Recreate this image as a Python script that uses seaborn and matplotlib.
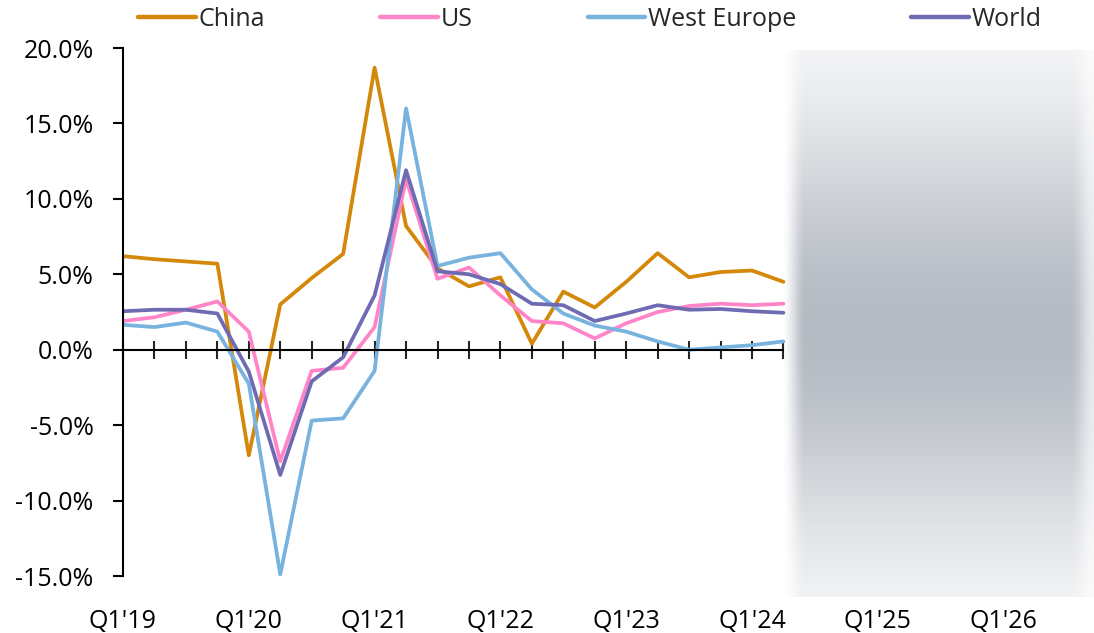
import numpy as np
import pandas as pd
import matplotlib
matplotlib.use("Agg")
import matplotlib.pyplot as plt
import seaborn as sns

quarters = ["Q1'19", "Q2'19", "Q3'19", "Q4'19", "Q1'20", "Q2'20", "Q3'20", "Q4'20",
            "Q1'21", "Q2'21", "Q3'21", "Q4'21", "Q1'22", "Q2'22", "Q3'22", "Q4'22",
            "Q1'23", "Q2'23", "Q3'23", "Q4'23", "Q1'24", "Q2'24"]
china = [6.2, 6.0, 5.85, 5.7, -7.0, 3.0, 4.75, 6.35, 18.7, 8.2, 5.4, 4.2,
         4.8, 0.4, 3.85, 2.8, 4.5, 6.4, 4.8, 5.15, 5.25, 4.5]
us = [1.9, 2.15, 2.65, 3.2, 1.2, -7.4, -1.4, -1.2, 1.5, 11.3, 4.7, 5.45,
      3.6, 1.9, 1.75, 0.75, 1.75, 2.5, 2.9, 3.05, 2.95, 3.05]
west_europe = [1.65, 1.5, 1.8, 1.2, -2.25, -14.9, -4.7, -4.55, -1.4, 16.0, 5.55, 6.1,
               6.4, 4.0, 2.4, 1.6, 1.2, 0.55, 0.0, 0.15, 0.3, 0.55]
world = [2.55, 2.65, 2.65, 2.4, -1.45, -8.3, -2.1, -0.5, 3.6, 11.9, 5.2, 5.0,
         4.35, 3.05, 2.95, 1.9, 2.4, 2.95, 2.65, 2.7, 2.55, 2.45]

series_names = ["China", "US", "West Europe", "World"]
colors = ["#D4880A", "#FF85C8", "#77B3DE", "#6E6BB3"]
tick_labels = ["Q1'19", "Q1'20", "Q1'21", "Q1'22", "Q1'23", "Q1'24", "Q1'25", "Q1'26"]
y_ticks = [-15, -10, -5, 0, 5, 10, 15, 20]

sns.set_style("white")
plt.rcParams['font.family'] = ['Open Sans', 'DejaVu Sans']

rows = []
for name, vals in zip(series_names, [china, us, west_europe, world]):
    for i, v in enumerate(vals):
        rows.append({'idx': i, 'quarter': quarters[i], 'value': v, 'series': name})
df = pd.DataFrame(rows)

W, H = 1094, 633
fig = plt.figure(figsize=(W / 100, H / 100), dpi=100)
ax = fig.add_axes([123 / W, (H - 576) / H, (W - 123) / W, 528 / H])

sns.lineplot(data=df, x='idx', y='value', hue='series', hue_order=series_names,
             palette=colors, linewidth=2.7, ax=ax, legend=False)

ax.set_xlim(0, (W - 123) / 31.45)
ax.set_ylim(-15, 20)
ax.set_xlabel('')
ax.set_ylabel('')

# y axis
ax.set_yticks(y_ticks)
ax.set_yticklabels([f"{t:.1f}%" for t in y_ticks])
ax.tick_params(axis='y', direction='out', length=7.2, width=1.5, pad=14,
               labelsize=18, colors='black', left=True)

# x axis sits on zero, ticks cross it (only where the data is)
last = len(quarters) - 1
ax.spines['bottom'].set_position(('data', 0))
ax.spines['bottom'].set_bounds(0, last)
ax.spines['right'].set_visible(False)
ax.spines['top'].set_visible(False)
for s in ['left', 'bottom']:
    ax.spines[s].set_color('black')
    ax.spines[s].set_linewidth(1.5)
ax.set_xticks(range(0, last + 1))
ax.tick_params(axis='x', direction='inout', length=13.5, width=1.5,
               labelbottom=False, bottom=True)

# quarter labels down at the bottom
sec = ax.secondary_xaxis('bottom')
sec.set_xticks(range(0, 32, 4))
sec.set_xticklabels(tick_labels)
sec.tick_params(length=0, pad=24, labelsize=18, colors='black')
sec.spines['bottom'].set_visible(False)

# legend
handles = [plt.Line2D([], [], color=c, lw=3.2) for c in colors]
fig.legend(handles, series_names, loc='center left',
           bbox_to_anchor=(138 / W, 1 - 19 / H), ncol=4, frameon=False,
           fontsize=18, handlelength=2.3, handletextpad=0.12,
           columnspacing=4.6, borderpad=0, borderaxespad=0)

# blurred grey forecast panel
x0, x1, y0, y1 = 782, 1094, 50, 597
gx = np.arange(x0, x1) + 0.5
gy = np.arange(y0, y1) + 0.5
va = np.exp(-((gy - 330) / 150.0) ** 2 / 2)
va = 0.16 + 0.82 * (va - va.min()) / (va.max() - va.min())
left = np.clip((gx - x0) / 24.0, 0, 1)
right = np.clip((x1 - gx) / 24.0, 0, 1)
ha = (left * left * (3 - 2 * left)) * (0.35 + 0.65 * right * right * (3 - 2 * right))
alpha = va[:, None] * ha[None, :]
img = np.zeros((len(gy), len(gx), 4))
img[..., 0] = 180 / 255
img[..., 1] = 185 / 255
img[..., 2] = 194 / 255
img[..., 3] = alpha
gax = fig.add_axes([x0 / W, (H - y1) / H, (x1 - x0) / W, (y1 - y0) / H])
gax.imshow(img, aspect='auto', interpolation='bilinear')
gax.axis('off')

fig.savefig('out.png', dpi=100)
